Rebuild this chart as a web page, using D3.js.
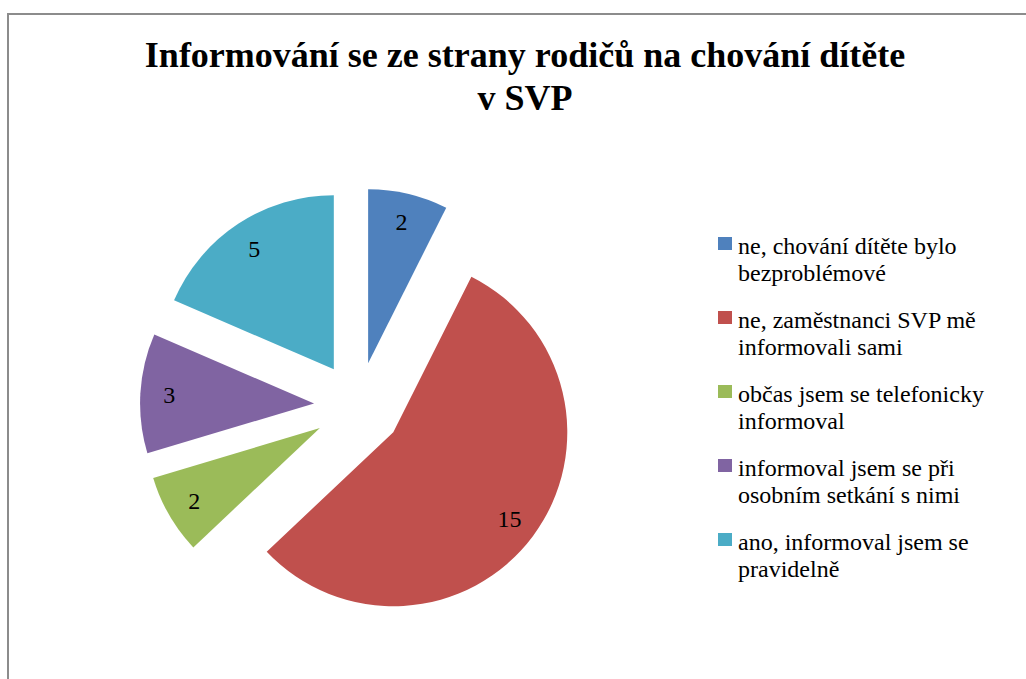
<!DOCTYPE html>
<html>
<head>
<meta charset="utf-8">
<script src="https://cdn.jsdelivr.net/npm/d3@7"></script>
<style>
  body { margin: 0; background: #fff; }
  svg { display: block; }
</style>
</head>
<body>
<div id="main"></div>
<script>
var categories = [
    ["ne, chování dítěte bylo", "bezproblémové"],
    ["ne, zaměstnanci SVP mě", "informovali sami"],
    ["občas jsem se telefonicky", "informoval"],
    ["informoval jsem se při", "osobním setkání s nimi"],
    ["ano, informoval jsem se", "pravidelně"]
];
var values = [2, 15, 2, 3, 5];
var colors = ["#4F81BD", "#C0504D", "#9BBB59", "#8064A2", "#4BACC6"];
var titleLines = ["Informování se ze strany rodičů na chování dítěte", "v SVP"];

var width = 1026, height = 679;
var radius = 174, explode = 44, labelDist = 145;
var center = [358, 406];
var font = "Liberation Serif";

var svg = d3.select("#main")
        .append("svg")
        .attr("width", width)
        .attr("height", height)
        .attr("font-family", font);

// chart frame (runs past the right and bottom edges)
svg.append("rect")
    .attr("x", 8)
    .attr("y", 14)
    .attr("width", 1100)
    .attr("height", 800)
    .attr("fill", "none")
    .attr("stroke", "#8c8c8c")
    .attr("stroke-width", 2);

svg.append("g")
    .selectAll("text")
    .data(titleLines)
    .enter()
    .append("text")
    .attr("x", 525)
    .attr("y", function(d, i) { return 67 + i * 43; })
    .attr("text-anchor", "middle")
    .attr("font-family", font)
    .attr("font-size", 36)
    .attr("font-weight", "bold")
    .text(function(d) { return d; });

var pie = d3.pie().sort(null).value(function(d) { return d; });
var arc = d3.arc().innerRadius(0).outerRadius(radius);
var arcs = pie(values);

function direction(a) {
    var mid = (a.startAngle + a.endAngle) / 2;
    return [Math.sin(mid), -Math.cos(mid)];
}

var slices = svg.append("g")
        .attr("transform", "translate(" + center[0] + "," + center[1] + ")")
        .selectAll("g")
        .data(arcs)
        .enter()
        .append("g")
        .attr("transform", function(a) {
            var d = direction(a);
            return "translate(" + (d[0] * explode) + "," + (d[1] * explode) + ")";
        });

slices.append("path")
    .attr("d", arc)
    .attr("fill", function(a, i) { return colors[i]; });

slices.append("text")
    .attr("x", function(a) { return direction(a)[0] * labelDist; })
    .attr("y", function(a) { return direction(a)[1] * labelDist; })
    .attr("dy", "0.35em")
    .attr("text-anchor", "middle")
    .attr("font-family", font)
    .attr("font-size", 24)
    .attr("fill", "#000")
    .text(function(a) { return a.data; });

var legend = svg.append("g")
        .selectAll("g")
        .data(categories)
        .enter()
        .append("g")
        .attr("transform", function(d, i) { return "translate(718," + (237 + i * 74) + ")"; });

legend.append("rect")
    .attr("width", 14)
    .attr("height", 13)
    .attr("fill", function(d, i) { return colors[i]; });

legend.each(function(lines) {
    var g = d3.select(this);
    lines.forEach(function(line, j) {
        g.append("text")
            .attr("x", 20)
            .attr("y", 17 + j * 27)
            .attr("font-family", font)
            .attr("font-size", 24)
            .attr("fill", "#000")
            .text(line);
    });
});
</script>
</body>
</html>
